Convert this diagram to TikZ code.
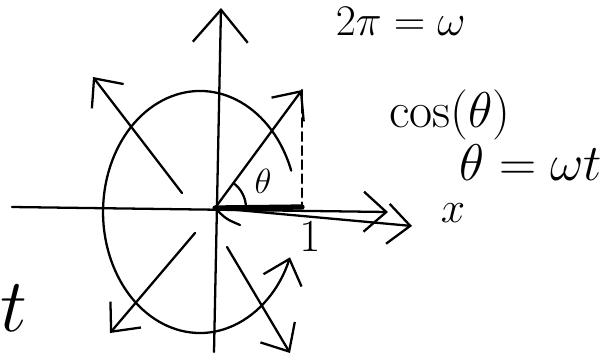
\documentclass[tikz,border=0pt]{standalone}
\usetikzlibrary{arrows.meta}

\begin{document}
\begin{tikzpicture}[x=0.02cm, y=-0.02cm,
  pen/.style={line width=1.3pt, line cap=round, line join=round},
  vec/.style={pen, -{Straight Barb[length=4.5mm, width=8mm, line width=1.3pt]}},
  bigvec/.style={pen, -{Straight Barb[length=6.5mm, width=11mm, line width=1.3pt]}},
  hand/.style={inner sep=0pt, font=\Huge, transform shape},
]
\useasboundingbox (0,0) rectangle (609,363);
\clip (0,0) rectangle (609,363);

% axes
\coordinate (O) at (215,208);
\coordinate (xl) at (12,207);
\coordinate (xe) at (388,212);
\coordinate (xf) at (412,226);
\coordinate (yb) at (214,352);
\coordinate (yt) at (221,8);
\draw[vec] (xl) -- (xe);
\draw[vec] (O) -- (xf);
\draw[bigvec] (yb) -- (yt);

% rotating vector and its projection
\coordinate (v) at (302,90);
\coordinate (P) at (302,207);
\draw[vec] (O) -- (v);
\draw[pen, dash pattern=on 5pt off 3pt] (v) -- (P);
\draw[line width=3pt, line cap=round] (O) -- (P);
\draw[pen] (O) ++(-4:31) arc[start angle=-4, end angle=-52, radius=31];
\coordinate (s) at (240,225);
\draw[pen] (O) .. controls (226,219) .. (s);

% circle
\draw[vec] (291.2,170.6) arc[start angle=-20, end angle=-338, x radius=97, y radius=121];

% other positions of the vector
\coordinate (ul0) at (182,193);
\coordinate (ul) at (93,77);
\coordinate (ll0) at (195,233);
\coordinate (ll) at (110,333);
\coordinate (lr0) at (227,247);
\coordinate (lr) at (290,353);
\draw[vec] (ul0) -- (ul);
\draw[vec] (ll0) -- (ll);
\draw[vec] (lr0) -- (lr);

% labels
\node[hand, scale=1.0, anchor=north east] (top) at (466,7) {$2\pi=\omega$};
\node[hand, scale=1.15] (cos) at (450,115) {$\cos(\theta)$};
\node[hand, scale=1.18] (om) at (531,163) {$\theta=\omega t$};
\node[hand, scale=1.0] (xlab) at (453,213) {$x$};
\node[hand, scale=1.05] (one) at (310,237) {$1$};
\node[hand, scale=0.8] (th) at (263,181) {$\theta$};
\node[hand, scale=1.73] (tlab) at (14,308) {$t$};
\end{tikzpicture}
\end{document}
